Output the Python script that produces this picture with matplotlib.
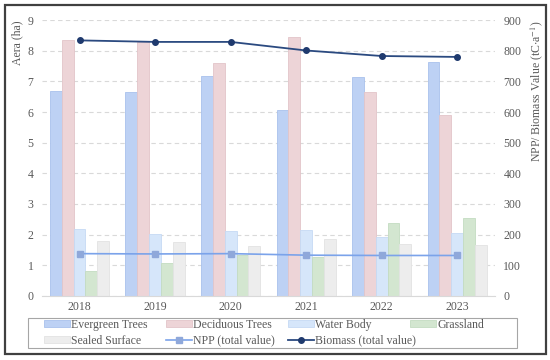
import matplotlib
matplotlib.use("Agg")
import matplotlib.pyplot as plt
import numpy as np
from matplotlib.patches import Rectangle

years = ["2018", "2019", "2020", "2021", "2022", "2023"]
evergreen = [6.68, 6.64, 7.17, 6.08, 7.14, 7.65]
deciduous = [8.36, 8.28, 7.60, 8.44, 6.65, 5.90]
water = [2.20, 2.03, 2.12, 2.14, 1.92, 2.06]
grassland = [0.80, 1.08, 1.33, 1.28, 2.38, 2.55]
sealed = [1.79, 1.75, 1.62, 1.87, 1.71, 1.65]
npp = [138, 137, 138, 133, 132, 132]
biomass = [834, 829, 829, 801, 783, 780]

plt.rcParams['font.family'] = ['Liberation Serif', 'DejaVu Serif']
plt.rcParams['mathtext.fontset'] = 'stix'
txt = '#595959'

fig = plt.figure(figsize=(5.5, 3.6), dpi=100)
ax = fig.add_axes([0.076, 0.178, 0.824, 0.766])
ax2 = ax.twinx()

x = np.arange(len(years))
w = 0.157
series = [
    (evergreen, '#BDD1F4', '#A9C1EC', 'Evergreen Trees'),
    (deciduous, '#EDD4D7', '#E3C5C9', 'Deciduous Trees'),
    (water, '#D6E6FA', '#C6DAF4', 'Water Body'),
    (grassland, '#D3E6D0', '#C4DCC1', 'Grassland'),
    (sealed, '#EDEDED', '#E3E3E3', 'Sealed Surface'),
]
handles = []
for i, (vals, fc, ec, lab) in enumerate(series):
    h = ax.bar(x + (i - 2) * w, vals, w, color=fc, edgecolor=ec, linewidth=0.6, label=lab, zorder=2)
    handles.append(h)

l1, = ax2.plot(x, npp, color='#7BA3EA', lw=1.2, marker='s', ms=4.5,
               mfc='#8FA8DA', mec='#8FA8DA', label='NPP (total value)', zorder=3)
l2, = ax2.plot(x, biomass, color='#2B4A80', lw=1.3, marker='o', ms=4,
               mfc='#1F3A6E', mec='#1F3A6E', label='Biomass (total value)', zorder=3)

ax.set_xlim(-0.5, 5.5)
ax.set_ylim(0, 9)
ax2.set_ylim(0, 900)
ax.set_yticks(range(0, 10))
ax2.set_yticks(range(0, 1000, 100))
ax.set_xticks(x)
ax.set_xticklabels(years)
ax.yaxis.grid(True, linestyle=(0, (4, 3)), color='#D9D9D9', lw=0.8, zorder=0)
ax.set_axisbelow(True)
for a in (ax, ax2):
    for s in a.spines.values():
        s.set_visible(False)
    a.tick_params(length=0, labelsize=8.5, colors=txt, pad=6)
ax.spines['bottom'].set_visible(True)
ax.spines['bottom'].set_color('#D9D9D9')
ax.tick_params(axis='x', pad=4)

ax.set_ylabel('Aera (ha)', fontsize=8.5, color=txt, labelpad=3, loc='top')
ax2.set_ylabel(r'NPP/ Biomass Value (tC$\cdot$a$^{-1}$)', fontsize=8.5, color=txt, labelpad=5, loc='top')

columns = [[handles[0], handles[4]], [handles[1], l1], [handles[2], l2], [handles[3]]]
col_x = [44, 166, 288, 410]
for cx, col in zip(col_x, columns):
    lg = fig.legend(col, [h.get_label() for h in col], loc='upper left',
                    bbox_to_anchor=(cx/550, 1-319/360), fontsize=8.5, frameon=False,
                    handlelength=2.2, handleheight=0.5, handletextpad=0.1,
                    borderaxespad=0, labelspacing=0.3, borderpad=0)
    for t in lg.get_texts():
        t.set_color(txt)

fig.patches.append(Rectangle((28/550, 1-348/360), 489/550, 30/360, transform=fig.transFigure,
                             fill=False, edgecolor='#A6A6A6', lw=0.8))
fig.patches.append(Rectangle((5/550, 1-354/360), 541/550, 349/360, transform=fig.transFigure,
                             fill=False, edgecolor='#404040', lw=1.6))

fig.savefig('out.png', dpi=100)
